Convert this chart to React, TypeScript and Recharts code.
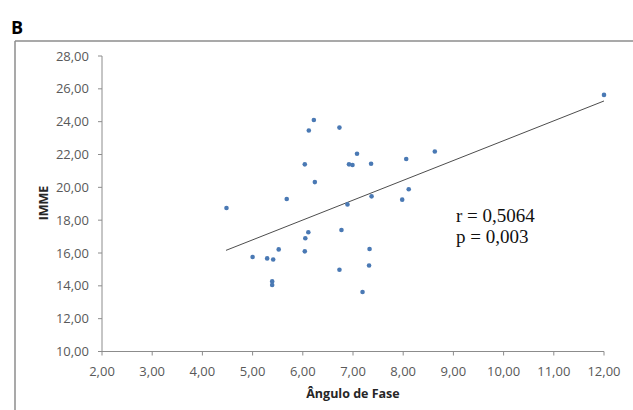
import React from 'react';
import { ScatterChart, Scatter, XAxis, YAxis, ReferenceLine } from 'recharts';

const xValues = [4.48, 5.0, 5.29, 5.41, 5.39, 5.39, 5.52, 5.68, 6.04, 6.04, 6.05, 6.11, 6.12, 6.22, 6.24, 6.73, 6.73, 6.77, 6.89, 6.92, 6.99, 7.08, 7.19, 7.33, 7.32, 7.36, 7.37, 7.98, 8.06, 8.11, 8.63, 12.0];
const yValues = [18.74, 15.76, 15.67, 15.6, 14.27, 14.05, 16.22, 19.29, 21.4, 16.1, 16.9, 17.26, 23.46, 24.1, 20.32, 23.64, 14.98, 17.4, 18.96, 21.4, 21.36, 22.05, 13.62, 16.24, 15.24, 21.44, 19.45, 19.25, 21.73, 19.88, 22.18, 25.63];
const trendX = [4.47, 12.0];
const trendY = [16.16, 25.26];
const xTicks = [2, 3, 4, 5, 6, 7, 8, 9, 10, 11, 12];
const yTicks = [10, 12, 14, 16, 18, 20, 22, 24, 26, 28];
const annotation = ['r = 0,5064', 'p = 0,003'];

const points = xValues.map((x, i) => ({ x, y: yValues[i] }));
const fmt = (v: number) => v.toFixed(2).replace('.', ',');

const tickStyle = { fill: '#595959', fontSize: 13, fontFamily: '"Open Sans", sans-serif' };

const Dot = (props: any) => {
  const { cx, cy } = props;
  if (cx == null || cy == null) return null;
  return <circle cx={cx} cy={cy} r={2.3} fill="#4a79b4" />;
};

export default function App() {
  return (
    <div style={{ position: 'fixed', left: 0, top: 0, width: 633, height: 410, overflow: 'hidden', background: '#fff' }}>
      <ScatterChart width={633} height={410} margin={{ top: 56, right: 29, bottom: 10.5, left: 0 }}>
        <XAxis
          type="number"
          dataKey="x"
          domain={[2, 12]}
          ticks={xTicks}
          tickFormatter={fmt}
          tick={tickStyle}
          tickSize={4}
          tickMargin={11}
          height={48}
          stroke="#8c8c8c"
          tickLine={{ stroke: '#8c8c8c' }}
        />
        <YAxis
          type="number"
          dataKey="y"
          domain={[10, 28]}
          ticks={yTicks}
          tickFormatter={fmt}
          tick={tickStyle}
          tickSize={4}
          tickMargin={9}
          width={102}
          stroke="#8c8c8c"
          tickLine={{ stroke: '#8c8c8c' }}
        />
        <ReferenceLine
          segment={[{ x: trendX[0], y: trendY[0] }, { x: trendX[1], y: trendY[1] }]}
          stroke="#4d4d4d"
          strokeWidth={1}
        />
        <Scatter data={points} shape={<Dot />} isAnimationActive={false} />
      </ScatterChart>
      <svg width={633} height={410} style={{ position: 'absolute', left: 0, top: 0, pointerEvents: 'none' }}>
        <line x1={15} y1={41} x2={633} y2={41} stroke="#8c8c8c" strokeWidth={1.5} />
        <line x1={15} y1={41} x2={15} y2={410} stroke="#8c8c8c" strokeWidth={1.5} />
        <text x={11} y={34} fontFamily='"Open Sans", Arial, sans-serif' fontWeight="bold" fontSize={18} fill="#000">B</text>
        <text
          x={48}
          y={203}
          transform="rotate(-90 48 203)"
          textAnchor="middle"
          fontFamily='"Open Sans", sans-serif'
          fontWeight="bold"
          fontSize={12.5}
          fill="#262626"
        >IMME</text>
        <text x={353} y={397.5} textAnchor="middle" fontFamily='"Open Sans", sans-serif' fontWeight="bold" fontSize={12.5} fill="#262626">Ângulo de Fase</text>
        <text x={456} y={222} fontFamily='"Liberation Serif", "Times New Roman", serif' fontSize={19} fill="#111">{annotation[0]}</text>
        <text x={456} y={243} fontFamily='"Liberation Serif", "Times New Roman", serif' fontSize={19} fill="#111">{annotation[1]}</text>
      </svg>
    </div>
  );
}
